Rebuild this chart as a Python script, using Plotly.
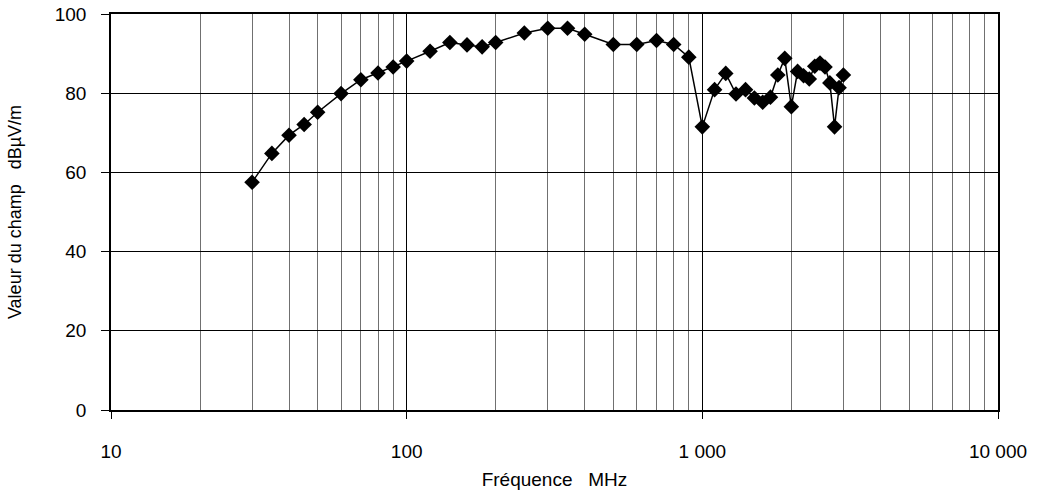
import plotly.graph_objects as go

freq_mhz = [30, 35, 40, 45, 50, 60, 70, 80, 90, 100, 120, 140, 160, 180, 200,
            250, 300, 350, 400, 500, 600, 700, 800, 900, 1000,
            1100, 1200, 1300, 1400, 1500, 1600, 1700, 1800, 1900, 2000,
            2100, 2200, 2300, 2400, 2500, 2600, 2700, 2800, 2900, 3000]
field_dbuv = [57.5, 64.8, 69.4, 72.1, 75.2, 79.9, 83.4, 85.1, 86.6, 88.1, 90.6, 92.8, 92.2, 91.7, 92.8,
              95.2, 96.4, 96.4, 94.9, 92.3, 92.3, 93.3, 92.3, 89.1, 71.5,
              80.9, 85.0, 79.8, 80.9, 78.8, 77.7, 79.0, 84.6, 88.8, 76.6,
              85.5, 84.4, 83.6, 86.8, 87.6, 86.6, 82.6, 71.5, 81.4, 84.6]

x_tickvals = [10, 100, 1000, 10000]
x_ticktext = ["10", "100", "1\u00a0000", "10\u00a0000"]
y_tickvals = [0, 20, 40, 60, 80, 100]
x_title = "Fréquence\u00a0\u00a0\u00a0MHz"
y_title = "Valeur du champ\u00a0\u00a0\u00a0dBµV/m"

fig = go.Figure()
fig.add_trace(go.Scatter(
    x=freq_mhz, y=field_dbuv, mode="lines+markers",
    line=dict(color="black", width=1.5),
    marker=dict(symbol="diamond", size=12, color="black"),
    showlegend=False,
))

font_family = "Liberation Sans, Arial, sans-serif"
fig.update_layout(
    width=1039, height=500,
    margin=dict(l=111, r=41, t=14, b=90, autoexpand=False),
    paper_bgcolor="white", plot_bgcolor="white",
    font=dict(family=font_family, size=19, color="black"),
    xaxis=dict(
        type="log", range=[1, 4],
        tickvals=x_tickvals, ticktext=x_ticktext,
        tickfont=dict(size=19),
        showgrid=True, gridcolor="black", gridwidth=1,
        ticks="outside", ticklen=7, tickcolor="black",
        ticklabelstandoff=16,
        showline=True, linecolor="black", linewidth=1.5, mirror=True,
        minor=dict(dtick="D1", showgrid=True, gridcolor="#707070", gridwidth=1, ticks=""),
        title=dict(text=x_title, font=dict(size=19), standoff=12),
        zeroline=False, automargin=False,
    ),
    yaxis=dict(
        range=[0, 100], tickvals=y_tickvals,
        tickfont=dict(size=19),
        showgrid=True, gridcolor="black", gridwidth=1,
        ticks="outside", ticklen=8, tickcolor="black",
        ticklabelstandoff=11,
        showline=True, linecolor="black", linewidth=1.5, mirror=True,
        title=dict(text=y_title, font=dict(size=18), standoff=28),
        zeroline=False, automargin=False,
    ),
)

fig.write_html("out.html")
